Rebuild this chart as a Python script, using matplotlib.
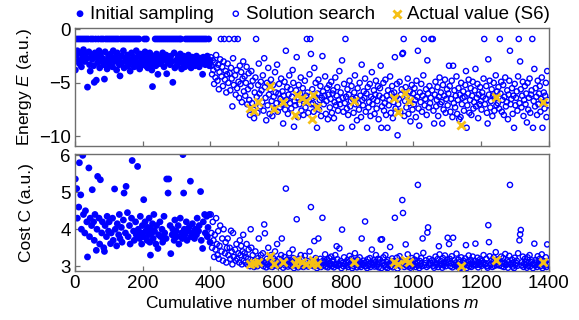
import numpy as np
import matplotlib
matplotlib.use("Agg")
import matplotlib.pyplot as plt

nan = float("nan")

# ---------------- data ----------------
# Initial sampling: simulations m = 1, 3, ..., 399  (-0.9 = failed simulations row)
energy_initial = [
    -3.8,-0.9,-2.4,-2.0,-0.9,-2.9,-3.2,-0.9,-2.2,-3.5,-0.9,-2.6,-1.9,-0.9,-3.0,-2.3,-0.9,-2.7,-5.4,-0.9,-2.1,-3.3,-3.9,-0.9,-2.5,
    -2.8,-0.9,-3.4,-4.95,-2.2,-0.9,-4.75,-2.6,-3.1,-0.9,-2.0,-3.6,-2.4,-0.9,-3.0,-2.7,-0.9,-3.3,-4.65,-2.1,-0.9,-2.9,-3.7,-0.9,-2.5,
    -3.2,-0.9,-2.3,-2.8,-0.9,-3.5,-2.0,-0.9,-3.0,-2.6,-0.9,-3.8,-2.2,-0.9,-2.9,-3.3,-4.35,-0.9,-2.5,-3.1,-0.9,-2.0,-3.6,-0.9,-2.7,
    -3.0,-0.9,-2.4,-3.4,-0.9,-2.8,-3.9,-0.9,-2.2,-3.1,-0.9,-2.6,-3.5,-0.9,-2.9,-2.0,-0.9,-3.2,-2.5,-0.9,-3.7,-2.3,-3.0,-2.7,-3.3,
    -2.6,-3.1,-0.9,-2.1,-3.4,-0.9,-2.8,-3.6,-2.4,-3.0,-2.2,-3.3,-2.7,-3.8,-5.35,-2.5,-3.1,-2.9,-0.9,-3.4,-2.3,-0.9,-4.2,-2.8,-0.9,
    -3.2,-2.6,-0.9,-3.0,-2.2,-0.9,-3.5,-2.7,-0.9,-2.4,-4.15,-0.9,-3.1,-2.8,-0.9,-3.3,-2.5,-0.9,-3.0,-4.95,-0.9,-2.2,-3.6,-0.9,-2.9,
    -3.4,-0.9,-2.6,-3.1,-0.9,-2.3,-0.9,-3.7,-2.8,-3.2,-2.5,-3.0,-3.5,-0.9,-2.7,-3.3,-0.9,-2.4,-3.0,-0.9,-2.9,-3.6,-0.9,-2.6,-3.2,
    -0.9,-2.8,-3.4,-0.9,-2.5,-3.1,-0.9,-2.9,-3.5,-0.9,-2.7,-3.2,-0.9,-4.2,-2.6,-0.9,-3.0,-3.3,-0.9,-2.8,-2.5,-3.1,-0.9,-3.4,-2.9,
]
cost_initial = [
    5.36,nan,5.1,4.3,nan,4.6,5.8,nan,4.93,4.0,nan,6.0,4.4,nan,3.9,4.5,nan,4.2,3.25,nan,5.66,3.8,4.3,nan,4.1,
    5.07,nan,4.2,3.7,4.4,nan,3.43,4.0,5.43,nan,4.3,3.6,5.34,nan,3.9,4.2,nan,3.5,3.4,4.1,nan,3.8,4.35,nan,3.95,
    4.2,nan,3.61,3.9,nan,4.3,3.7,nan,5.09,4.0,nan,3.55,4.15,nan,3.85,4.4,3.75,nan,4.05,3.65,nan,4.25,4.98,nan,3.9,
    5.16,nan,4.45,3.8,nan,4.1,3.6,nan,4.3,5.86,nan,3.95,3.7,nan,4.2,3.85,nan,5.7,4.0,nan,3.75,4.35,3.9,3.6,4.1,
    3.8,4.8,nan,4.2,3.95,nan,3.7,4.05,3.85,4.3,3.65,3.3,4.0,3.9,4.15,3.75,4.4,3.95,nan,3.6,4.1,nan,3.48,3.85,nan,
    4.2,3.8,nan,4.0,3.65,nan,4.35,3.9,nan,3.75,5.36,nan,4.98,5.36,nan,4.1,3.34,nan,3.85,4.0,nan,3.7,4.25,nan,3.95,
    3.8,nan,4.1,3.6,nan,4.3,nan,3.9,3.75,6.02,4.98,4.0,3.85,nan,4.2,3.7,nan,3.95,4.05,nan,5.3,3.8,nan,4.15,3.9,
    nan,3.75,4.0,nan,3.85,4.3,nan,3.95,4.1,nan,5.02,3.7,nan,3.48,4.2,nan,4.4,3.9,nan,4.35,3.8,4.05,nan,4.4,3.65,
]

# Solution search: simulations m = 401, 403, ..., 1399
energy_search = [
    -2.6,-3.4,-4.2,-2.9,-3.8,-5.1,-3.1,-4.5,-2.4,-3.6,-4.8,-3.3,-5.6,-4.0,-2.8,-0.9,-4.4,-3.5,-5.3,-3.0,-0.9,-4.7,-3.9,-5.9,-4.2,
    -3.2,-5.0,-0.9,-4.1,-5.7,-3.6,-4.6,-7.2,-2.7,-5.2,-0.9,-4.3,-6.1,-3.8,-5.5,-0.9,-4.9,-6.4,-3.4,-5.1,-4.0,-6.8,-4.6,-3.0,-5.8,
    -4.4,-6.2,-5.0,-3.5,-7.0,-5.6,-4.1,-6.6,-8.0,-5.3,-3.9,-6.9,-4.8,-7.5,-8.3,-5.9,-4.5,-0.9,-6.3,-7.8,-5.2,-3.2,-6.0,-7.2,-4.9,
    -5.7,-6.8,-4.3,-7.6,-2.7,-5.4,-6.4,-8.5,-5.0,-7.1,-3.6,-6.1,-7.9,-5.6,-4.7,-6.7,-8.1,-5.2,-6.3,-7.4,-4.0,-5.9,-6.9,-3.3,-7.7,
    -6.0,-5.1,-7.3,-6.5,-4.6,-7.0,-5.8,-8.8,-6.2,-4.9,-7.5,-2.0,-6.6,-5.4,-7.9,-6.1,-4.3,-6.9,-5.6,-7.4,-6.3,-3.8,-5.0,-9.1,-6.7,
    -7.1,-5.7,-2.6,-6.4,-8.2,-5.2,-7.0,-6.0,-4.5,-7.6,-6.5,-5.5,-8.0,-6.8,-4.8,-7.3,-6.2,-0.9,-5.9,-7.8,-6.6,-4.2,-0.9,-2.3,-7.0,
    -5.6,-6.9,-7.7,-3.6,-6.3,-5.0,-7.2,-9.2,-6.0,-4.7,-7.5,-6.6,-5.3,-8.1,-6.4,-2.5,-5.8,-7.0,-6.2,-4.4,-7.9,-6.7,-5.5,-8.4,-6.1,
    -5.2,-7.3,-6.5,-4.9,-7.8,-6.0,-5.7,-8.3,-6.8,-4.5,-7.1,-6.2,-5.4,-7.6,-6.6,-3.9,-7.0,-5.9,-9.2,-2.9,-6.4,-7.7,-5.1,-6.9,-0.9,
    -6.3,-7.4,-5.6,-8.0,-6.1,-4.8,-7.2,-6.7,-5.3,-9.1,-6.5,-7.8,-5.9,-4.3,-7.0,-6.4,-8.5,-5.5,-6.9,-7.5,-5.0,-6.2,-8.2,-3.3,-6.6,
    -7.1,-5.8,-6.4,-4.6,-7.7,-6.0,-9.2,-5.4,-7.3,-6.8,-5.1,-8.1,-6.3,-4.0,-7.0,-6.5,-5.7,-7.9,-6.1,-4.8,-7.4,-6.7,-5.3,-8.4,-6.2,
    -5.5,-3.4,-9.2,-7.2,-6.4,-5.0,-7.6,-6.9,-4.7,-8.0,-6.2,-9.2,-5.7,-7.1,-6.6,-4.4,-7.8,-6.0,-5.3,-8.3,-6.8,-5.9,-2.6,-7.4,-6.3,
    -5.1,-9.9,-7.0,-6.5,-4.9,-7.7,-6.1,-5.6,-2.3,-2.2,-0.9,-8.1,-6.7,-5.4,-7.3,-6.2,-4.6,-7.9,-6.9,-5.8,-8.6,-6.4,-5.2,-7.5,-6.0,
    -7.0,-5.5,-6.6,-8.2,-4.8,-6.3,-2.0,-7.4,-9.0,-5.9,-6.8,-5.1,-7.7,-6.2,-4.3,-0.9,-7.1,-6.5,-5.6,-8.0,-2.9,-6.0,-7.3,-5.3,-6.9,
    -6.4,-0.9,-5.7,-0.9,-7.6,-8.8,-6.1,-4.9,-7.2,-6.6,-5.4,-8.1,-6.3,-4.5,-7.0,-5.9,-6.8,-8.8,-5.2,-7.5,-6.2,-4.7,-7.8,-6.5,-5.6,
    -7.1,-6.0,-3.4,-5.3,-7.7,-6.5,-4.8,-8.2,-3.4,-6.9,-5.7,-7.3,-6.2,-4.4,-7.9,-6.6,-5.5,-8.4,-6.1,-8.2,-5.0,-7.0,-6.4,-5.8,-7.6,
    -6.3,-5.2,-3.9,-9.2,-7.1,-6.0,-4.7,-7.8,-6.6,-5.5,-8.0,-6.2,-4.9,-7.4,-6.8,-5.7,-3.7,-7.2,-6.4,-5.1,-8.3,-6.1,-7.0,-5.4,-6.7,
    -7.5,-5.9,-6.3,-4.6,-0.9,-7.0,-6.5,-5.3,-7.8,-8.8,-2.8,-6.1,-4.8,-7.3,-6.7,-5.6,-8.1,-6.2,-5.0,-7.6,-6.4,-4.3,-7.1,-5.8,-6.9,
    -5.4,-7.4,-0.9,-6.0,-4.9,-7.7,-6.6,-5.2,-8.0,-6.3,-4.5,-7.2,-6.8,-5.7,-8.4,-6.1,-4.8,-2.0,-7.0,-6.5,-5.5,-7.9,-6.2,-9.2,-5.1,
    -7.1,-6.4,-5.8,-7.6,-4.4,-0.9,-6.9,-3.0,-5.6,-7.3,-6.2,-4.9,-8.1,-6.6,-5.3,-7.0,-6.0,-8.7,-5.0,-7.5,-6.4,-4.6,-7.8,-6.1,-5.7,
    -0.9,-9.2,-6.7,-3.7,-7.2,-5.5,-6.3,-8.0,-4.8,-7.0,-6.0,-5.3,-7.7,-6.5,-4.5,-9.2,-6.8,-5.9,-7.4,-6.2,-5.0,-8.2,-3.9,-6.6,-7.1,
]
cost_search = [
    4.4,3.9,3.5,4.2,3.7,3.25,3.85,3.45,4.3,3.6,3.3,3.95,3.2,3.55,4.1,nan,3.4,3.75,3.15,4.0,nan,3.35,3.65,3.1,3.5,
    3.75,3.3,nan,3.5,3.2,3.96,3.4,3.05,3.9,3.25,nan,3.45,3.15,3.6,3.2,nan,3.35,3.1,3.7,3.3,3.55,3.05,3.4,3.85,3.15,
    3.35,3.1,3.25,3.6,3.05,3.2,3.45,3.1,3.0,4.0,3.5,3.05,3.3,3.02,2.98,3.15,3.4,nan,3.12,3.0,3.22,3.75,3.15,3.05,3.3,
    3.15,3.05,3.35,3.0,4.13,3.89,3.1,2.97,3.2,3.05,3.5,3.12,3.0,3.18,3.3,3.08,2.98,3.22,3.1,3.02,3.4,3.15,3.05,3.6,3.0,
    3.1,3.2,3.02,3.08,3.3,3.75,3.15,2.96,3.1,3.25,3.02,5.1,3.06,3.18,2.99,3.12,3.35,3.04,3.16,3.0,3.1,3.45,3.22,2.95,3.06,
    3.02,3.15,4.27,3.08,2.97,3.2,3.04,3.12,3.3,3.0,3.08,3.18,2.98,3.05,3.28,3.02,3.1,nan,3.14,2.99,3.06,3.4,nan,4.6,3.03,
    3.16,3.04,3.0,3.68,3.1,3.22,3.02,2.95,3.12,3.75,3.0,3.07,3.2,2.98,3.09,4.31,3.15,3.03,3.11,3.32,2.99,3.06,3.18,2.97,3.13,
    3.22,3.02,3.08,3.26,3.0,3.12,3.16,2.97,3.05,3.3,3.03,3.54,3.19,3.01,3.07,3.48,3.04,3.14,2.95,3.99,3.09,3.0,3.24,3.05,nan,
    3.1,3.02,3.17,2.98,3.12,3.28,3.03,3.06,3.2,2.95,3.08,3.0,3.14,3.35,3.04,3.1,2.97,3.18,3.05,3.01,3.24,3.11,2.98,3.75,3.07,
    3.03,3.15,3.09,4.21,3.0,3.12,2.95,3.19,3.02,3.06,3.22,2.98,3.1,3.45,3.04,3.08,3.16,2.99,3.11,3.3,3.01,3.05,3.2,2.97,3.1,
    3.18,3.72,2.95,3.73,3.09,3.24,3.01,3.04,3.3,2.98,3.11,2.95,3.16,3.03,3.07,3.52,3.0,3.13,3.21,2.97,3.05,3.14,4.31,3.02,3.1,
    3.23,2.94,3.04,3.08,3.27,3.0,3.12,3.17,4.79,4.44,nan,2.98,3.06,3.59,3.02,3.11,3.32,2.99,3.05,3.15,2.96,3.09,3.22,3.01,3.13,
    3.03,3.18,3.07,2.98,3.28,3.1,5.2,3.02,2.95,3.14,3.05,3.22,3.0,3.75,3.36,nan,3.03,3.08,3.16,2.98,3.91,4.05,3.02,3.2,3.05,
    3.09,nan,3.16,nan,3.01,2.96,3.11,3.26,3.03,3.07,3.19,2.98,3.54,3.32,3.04,3.14,3.06,2.96,3.22,3.02,3.1,3.29,3.0,3.08,3.17,
    3.77,3.12,3.6,3.2,3.0,3.08,3.27,2.97,3.77,3.05,3.16,3.02,3.1,3.34,2.99,3.06,3.18,2.96,3.11,2.95,3.24,3.04,3.09,3.15,3.01,
    3.09,3.21,3.57,2.95,3.03,3.13,3.29,3.0,3.06,3.17,2.98,3.1,3.26,3.02,3.05,3.15,3.61,3.03,3.08,3.23,2.97,3.11,3.04,3.19,3.06,
    3.01,3.14,3.09,3.3,nan,3.04,3.08,3.2,3.0,2.96,4.11,3.65,3.27,3.02,3.06,3.16,2.98,3.11,3.24,3.01,3.09,3.38,3.03,3.15,3.05,
    3.19,3.02,nan,3.12,3.26,3.0,3.07,3.22,2.98,3.1,3.33,3.03,3.05,3.16,2.96,3.11,3.28,5.2,3.04,3.08,3.18,2.99,3.1,2.95,3.23,
    3.03,3.09,3.15,3.01,3.35,nan,3.7,3.86,3.98,3.02,3.11,3.26,2.98,3.07,3.2,3.04,3.12,2.96,3.24,3.01,3.09,3.3,3.0,3.11,3.16,
    nan,2.95,3.06,3.61,3.02,3.17,3.1,2.98,3.27,3.04,3.12,3.2,3.0,3.08,3.32,2.95,3.05,3.14,3.01,3.1,3.24,2.98,3.59,3.07,3.03,
]

# Actual value (S6)
actual_m      = [518, 530, 540, 577, 587, 614, 650, 657, 670, 681, 699, 704, 715, 823, 942, 954, 975, 986, 1139, 1245, 1384]
actual_energy = [-7.34, -7.59, -6.75, -5.27, -7.49, -6.75, -7.99, -6.10, -6.41, -6.72, -8.42, -6.13, -7.21, -6.66, -6.41, -7.68, -5.98, -6.66, -8.91, -6.35, -6.81]
actual_cost   = [3.07, 3.10, 3.11, 3.28, 3.07, 3.11, 3.07, 3.18, 3.11, 3.07, 3.07, 3.17, 3.07, 3.11, 3.11, 3.07, 3.18, 3.11, 3.00, 3.18, 3.11]

x_ticks = [0, 200, 400, 600, 800, 1000, 1200, 1400]
energy_ticks = [0, -5, -10]
cost_ticks = [3, 4, 5, 6]

m_initial = 1 + 2 * np.arange(len(energy_initial))
m_search = 401 + 2 * np.arange(len(energy_search))

# ---------------- style ----------------
plt.rcParams["font.family"] = ["Liberation Sans", "DejaVu Sans"]
plt.rcParams["mathtext.fontset"] = "custom"
plt.rcParams["mathtext.rm"] = "Liberation Sans"
plt.rcParams["mathtext.it"] = "Liberation Sans:italic"

BLUE = "#0000ff"
GOLD = "#f5c016"
SPINE = "#6e6e6e"
FS = 13.5

fig = plt.figure(figsize=(5.79, 3.2), dpi=100)
ax1 = fig.add_axes([0.1295, 0.5438, 0.8185, 0.3678])
ax2 = fig.add_axes([0.1295, 0.1531, 0.8185, 0.3672])

for ax, e_i, e_s, e_a in ((ax1, energy_initial, energy_search, actual_energy),
                          (ax2, cost_initial, cost_search, actual_cost)):
    ax.scatter(m_initial, e_i, s=24, color=BLUE, edgecolors="none", zorder=2,
               label="Initial sampling")
    ax.scatter(m_search, e_s, s=14, facecolors="none", edgecolors=BLUE,
               linewidths=1.0, zorder=3, label="Solution search")
    ax.scatter(actual_m, e_a, s=34, marker="x", color=GOLD, linewidths=2.0,
               zorder=4, label="Actual value (S6)")
    ax.set_xlim(0, 1400)
    ax.set_xticks(x_ticks)
    for sp in ax.spines.values():
        sp.set_color(SPINE)
        sp.set_linewidth(1.0)
    ax.tick_params(direction="in", length=3.5, width=0.9, color=SPINE,
                   labelsize=FS, pad=3)

ax1.set_ylim(-10.9, 0.1)
ax1.set_yticks(energy_ticks)
ax1.tick_params(labelbottom=False)
ax1.set_ylabel("Energy $E$ (a.u.)", fontsize=12.5)
ax1.yaxis.set_label_coords(-0.087, 0.5)

ax2.set_ylim(2.87, 6.05)
ax2.set_yticks(cost_ticks)
ax2.set_ylabel("Cost C (a.u.)", fontsize=12.5)
ax2.yaxis.set_label_coords(-0.087, 0.5)
ax2.set_xlabel("Cumulative number of model simulations $m$", fontsize=12.5)
ax2.xaxis.set_label_coords(0.5, -0.2)

fig.legend(*ax1.get_legend_handles_labels(), loc="center left",
           bbox_to_anchor=(0.1285, 0.956), ncol=3, frameon=False,
           fontsize=FS, handlelength=0.6, handletextpad=0.25,
           columnspacing=0.85, borderpad=0, borderaxespad=0, scatterpoints=1)

fig.savefig("out.png", dpi=100)
